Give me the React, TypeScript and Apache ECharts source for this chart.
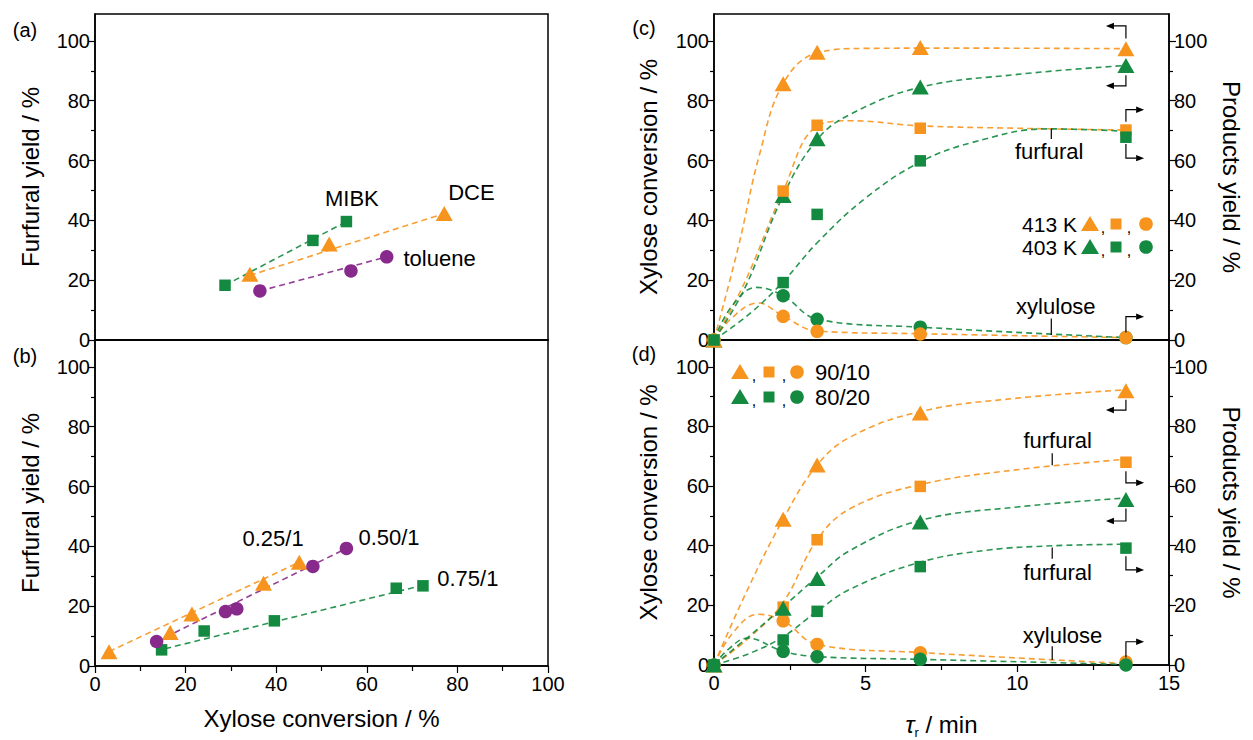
import React, { useEffect, useRef } from "react";
import * as echarts from "echarts";

const FONT = "'Liberation Sans', Arial, Helvetica, sans-serif";
const ORANGE = "#F7941D";
const GREEN = "#138A3F";
const PURPLE = "#882A8C";

// ---------- Panel (a): extraction solvent ----------
const mibkConv = [28.7, 48.1, 55.5];
const mibkYield = [18.3, 33.3, 39.6];
const dceConv = [34.2, 51.7, 77.1];
const dceYield = [22.0, 32.1, 42.3];
const tolConv = [36.4, 56.5, 64.4];
const tolYield = [16.4, 23.1, 27.8];
// fitted dashed lines (end points)
const mibkFitConv = [28.7, 55.5];
const mibkFitYield = [18.3, 39.6];
const dceFitConv = [34.2, 77.1];
const dceFitYield = [21.6, 42.3];
const tolFitConv = [36.4, 64.4];
const tolFitYield = [16.4, 27.8];

// ---------- Panel (b): volume ratio ----------
const r025Conv = [3.1, 16.6, 21.4, 37.2, 45.1];
const r025Yield = [4.8, 11.2, 17.4, 27.7, 34.7];
const r050Conv = [13.6, 28.8, 31.3, 48.1, 55.5];
const r050Yield = [8.2, 18.2, 19.1, 33.3, 39.3];
const r075Conv = [14.7, 24.1, 39.6, 66.5, 72.4];
const r075Yield = [5.4, 11.7, 15.1, 26.0, 26.8];
const r025FitConv = [3.1, 45.1];
const r025FitYield = [4.8, 34.7];
const r050FitConv = [13.6, 55.5];
const r050FitYield = [8.2, 39.3];
const r075FitConv = [15.5, 72.4];
const r075FitYield = [5.8, 27.0];

// ---------- Panels (c) and (d): residence time ----------
const tau = [0, 2.28, 3.4, 6.8, 13.58];
// (c) temperature
const conv413 = [0, 85.7, 96.2, 97.8, 97.4];
const furf413 = [0, 49.8, 71.8, 70.8, 70.2];
const xylu413 = [0, 7.9, 2.9, 2.0, 0.8];
const conv403 = [0, 48.3, 67.3, 84.6, 91.8];
const furf403 = [0, 19.2, 42.0, 59.9, 67.8];
const xylu403 = [0, 14.8, 6.9, 4.3, 0.8];
// (d) solvent ratio
const conv9010 = [0, 48.9, 67.1, 84.5, 92.0];
const furf9010 = [0, 19.4, 42.0, 59.9, 68.0];
const xylu9010 = [0, 14.8, 6.9, 4.1, 1.0];
const conv8020 = [0, 19.0, 29.0, 48.0, 55.5];
const furf8020 = [0, 8.4, 18.0, 33.0, 39.2];
const xylu8020 = [0, 4.6, 2.8, 1.9, 0.0];

// dashed guide curves
const curveConv413 = [[0, 0], [0.8, 31], [1.5, 62], [2.28, 85.7], [3.4, 96], [5, 97.5], [8, 97.6], [13.58, 97.4]];
const curveFurf413 = [[0, 0], [1, 19], [2.28, 49.8], [3.4, 71.5], [4.5, 73.3], [6.8, 71.6], [10, 70.8], [13.58, 70.2]];
const curveXylu413 = [[0, 0], [0.6, 7.5], [1.45, 12.4], [2.28, 8], [3.4, 3], [6.8, 2.1], [13.58, 0.8]];
const curveConv403 = [[0, 0], [1, 17], [2.28, 48.3], [3.4, 67], [4.5, 75.5], [6.8, 84.5], [10, 88.8], [13.58, 91.8]];
const curveFurf403 = [[0, 0], [1.2, 9], [2.28, 19.5], [3.4, 32.5], [5, 47.5], [6.8, 59.5], [8.5, 66], [11, 70.6], [13.58, 69.8]];
const curveXylu403 = [[0, 0], [0.6, 11.5], [1.4, 17.6], [2.28, 14.8], [3.4, 7], [6.8, 4.3], [13.58, 0.8]];

const curveConv9010 = [[0, 0], [1, 23], [2.28, 48.9], [3.4, 67], [4.5, 76.5], [6.8, 85], [10, 89.5], [13.58, 92.3]];
const curveFurf9010 = [[0, 0], [1.2, 9.5], [2.28, 21], [3.4, 42], [4.5, 52.5], [6.8, 60.5], [10, 65.5], [13.58, 69]];
const curveXylu9010 = [[0, 0], [0.6, 10.5], [1.45, 17], [2.28, 14.8], [3.4, 6.9], [6.8, 4.2], [13.58, 0.5]];
const curveConv8020 = [[0, 0], [1.2, 10], [2.28, 19.5], [3.4, 29.5], [4.5, 38.5], [6.8, 48.5], [10, 53], [13.58, 56]];
const curveFurf8020 = [[0, 0], [1.2, 4], [2.28, 9.5], [3.4, 18], [4.5, 25.5], [6.8, 34.5], [9, 38.5], [11.2, 40], [13.58, 40.5]];
const curveXylu8020 = [[0, 0], [0.5, 5.5], [1.1, 9], [2.28, 4.6], [3.4, 2.8], [6.8, 1.9], [13.58, 0.2]];

const yMajor = [0, 20, 40, 60, 80, 100];
const yMinor = [10, 30, 50, 70, 90];

const zip = (xs: number[], ys: number[]) => xs.map((x, i) => [x, ys[i]]);

const SYM: Record<string, any> = {
  tri: { symbol: "triangle", symbolSize: [17, 15] },
  sq: { symbol: "rect", symbolSize: 11.5 },
  ci: { symbol: "circle", symbolSize: 13.5 },
};

function yMain(grid: number, pos: string, name: string, rot: number, gap: number) {
  return {
    type: "value", gridIndex: grid, position: pos, min: 0, max: 109,
    axisLine: { show: true, onZero: false, lineStyle: { color: "#000", width: 1.5 } },
    axisTick: { show: true, customValues: yMajor, length: 7, lineStyle: { color: "#000", width: 1.2 } },
    axisLabel: { show: true, customValues: yMajor, fontSize: 20, color: "#000", margin: 5, fontFamily: FONT },
    splitLine: { show: false },
    name, nameLocation: "middle", nameGap: gap, nameRotate: rot,
    nameTextStyle: { fontSize: 24, color: "#000", fontFamily: FONT },
  };
}
function yMin(grid: number, pos: string) {
  return {
    type: "value", gridIndex: grid, position: pos, min: 0, max: 109,
    axisLine: { show: false },
    axisTick: { show: true, customValues: yMinor, length: 4, lineStyle: { color: "#000", width: 1.2 } },
    axisLabel: { show: false },
    splitLine: { show: false },
  };
}
function xPlain(grid: number, max: number) {
  return {
    type: "value", gridIndex: grid, min: 0, max,
    axisLine: { show: true, onZero: false, lineStyle: { color: "#000", width: 1.5 } },
    axisTick: { show: false }, axisLabel: { show: false }, splitLine: { show: false },
  };
}
function xLabeled(grid: number, max: number, interval: number, name: string, nameGap: number, rich?: any) {
  return {
    type: "value", gridIndex: grid, min: 0, max, interval,
    axisLine: { show: true, onZero: false, lineStyle: { color: "#000", width: 1.5 } },
    axisTick: { show: true, length: 7, lineStyle: { color: "#000", width: 1.2 } },
    minorTick: { show: true, splitNumber: 2, length: 5, lineStyle: { color: "#000", width: 1.2 } },
    axisLabel: { fontSize: 20, color: "#000", margin: 8, fontFamily: FONT },
    splitLine: { show: false },
    name, nameLocation: "middle", nameGap,
    nameTextStyle: { fontSize: 24, color: "#000", fontFamily: FONT, rich },
  };
}

function fitLine(x: number, y: number, data: number[][], color: string) {
  return {
    type: "line", xAxisIndex: x, yAxisIndex: y, data, symbol: "none", silent: true, z: 2,
    lineStyle: { color, width: 1.6, type: [6, 4], opacity: 0.9 },
  };
}
function curve(x: number, y: number, data: number[][], color: string) {
  return {
    type: "line", xAxisIndex: x, yAxisIndex: y, data, symbol: "none", silent: true, z: 2,
    smooth: 0.4,
    lineStyle: { color, width: 1.6, type: [6, 4], opacity: 0.9 },
  };
}
function pts(x: number, y: number, data: number[][], color: string, kind: string, z = 5) {
  return {
    type: "scatter", xAxisIndex: x, yAxisIndex: y, data, z,
    ...SYM[kind],
    itemStyle: { color, opacity: 1 },
  };
}

function buildOption(): any {
  const grid = [
    { left: 95, width: 453, top: 14, height: 326 },
    { left: 95, width: 453, top: 340, height: 326 },
    { left: 714, width: 455, top: 14, height: 326 },
    { left: 714, width: 455, top: 340, height: 326 },
  ].map((g) => ({ ...g, show: true, borderColor: "#000", borderWidth: 1.5, containLabel: false }));

  const xAxis = [
    xPlain(0, 100),
    xLabeled(1, 100, 20, "Xylose conversion / %", 40),
    xPlain(2, 15),
    xLabeled(3, 15, 5, "{t|τ}{s|r}{n| / min}", 44, {
      t: { fontSize: 24, fontStyle: "italic", fontFamily: FONT, color: "#000" },
      s: { fontSize: 13, fontFamily: FONT, color: "#000", verticalAlign: "bottom", lineHeight: 30 },
      n: { fontSize: 24, fontFamily: FONT, color: "#000" },
    }),
  ];

  const yAxis = [
    yMain(0, "left", "Furfural yield / %", 90, 53), yMin(0, "left"),
    yMain(1, "left", "Furfural yield / %", 90, 53), yMin(1, "left"),
    yMain(2, "left", "Xylose conversion / %", 90, 54), yMin(2, "left"),
    yMain(2, "right", "Products yield / %", -90, 50), yMin(2, "right"),
    yMain(3, "left", "Xylose conversion / %", 90, 54), yMin(3, "left"),
    yMain(3, "right", "Products yield / %", -90, 50), yMin(3, "right"),
  ];

  const series: any[] = [
    // (a)
    fitLine(0, 0, zip(mibkFitConv, mibkFitYield), GREEN),
    fitLine(0, 0, zip(dceFitConv, dceFitYield), ORANGE),
    fitLine(0, 0, zip(tolFitConv, tolFitYield), PURPLE),
    pts(0, 0, zip(mibkConv, mibkYield), GREEN, "sq"),
    pts(0, 0, zip(dceConv, dceYield), ORANGE, "tri"),
    pts(0, 0, zip(tolConv, tolYield), PURPLE, "ci"),
    // (b)
    fitLine(1, 2, zip(r025FitConv, r025FitYield), ORANGE),
    fitLine(1, 2, zip(r050FitConv, r050FitYield), PURPLE),
    fitLine(1, 2, zip(r075FitConv, r075FitYield), GREEN),
    pts(1, 2, zip(r075Conv, r075Yield), GREEN, "sq"),
    pts(1, 2, zip(r025Conv, r025Yield), ORANGE, "tri"),
    pts(1, 2, zip(r050Conv, r050Yield), PURPLE, "ci"),
    // (c)
    curve(2, 4, curveConv413, ORANGE),
    curve(2, 4, curveFurf413, ORANGE),
    curve(2, 4, curveXylu413, ORANGE),
    curve(2, 4, curveConv403, GREEN),
    curve(2, 4, curveFurf403, GREEN),
    curve(2, 4, curveXylu403, GREEN),
    pts(2, 4, zip(tau, conv403), GREEN, "tri", 5),
    pts(2, 4, zip(tau, xylu403), GREEN, "ci", 5),
    pts(2, 4, zip(tau, conv413), ORANGE, "tri", 6),
    pts(2, 4, zip(tau, furf413), ORANGE, "sq", 6),
    pts(2, 4, zip(tau, xylu413), ORANGE, "ci", 6),
    pts(2, 4, zip(tau, furf403), GREEN, "sq", 7),
    // (d)
    curve(3, 8, curveConv9010, ORANGE),
    curve(3, 8, curveFurf9010, ORANGE),
    curve(3, 8, curveXylu9010, ORANGE),
    curve(3, 8, curveConv8020, GREEN),
    curve(3, 8, curveFurf8020, GREEN),
    curve(3, 8, curveXylu8020, GREEN),
    pts(3, 8, zip(tau, conv9010), ORANGE, "tri", 5),
    pts(3, 8, zip(tau, furf9010), ORANGE, "sq", 5),
    pts(3, 8, zip(tau, xylu9010), ORANGE, "ci", 5),
    pts(3, 8, zip(tau, conv8020), GREEN, "tri", 6),
    pts(3, 8, zip(tau, furf8020), GREEN, "sq", 6),
    pts(3, 8, zip(tau, xylu8020), GREEN, "ci", 6),
  ];

  return { animation: false, backgroundColor: "#fff", grid, xAxis, yAxis, series };
}

// ---------- annotations (data coordinates of each panel) ----------
const PANEL_AXES: Record<string, [number, number]> = { a: [0, 0], b: [1, 2], c: [2, 4], d: [3, 8] };

const labelTexts = [
  { p: "a", x: 56.7, y: 47.2, t: "MIBK", align: "center" },
  { p: "a", x: 83.1, y: 49.4, t: "DCE", align: "center" },
  { p: "a", x: 68.1, y: 27.3, t: "toluene", align: "left" },
  { p: "b", x: 39.3, y: 42.5, t: "0.25/1", align: "center" },
  { p: "b", x: 64.9, y: 43.0, t: "0.50/1", align: "center" },
  { p: "b", x: 82.3, y: 29.2, t: "0.75/1", align: "center" },
  { p: "c", x: 11.05, y: 63, t: "furfural", align: "center" },
  { p: "c", x: 11.27, y: 11.1, t: "xylulose", align: "center" },
  { p: "d", x: 11.33, y: 75.2, t: "furfural", align: "center" },
  { p: "d", x: 11.33, y: 30.9, t: "furfural", align: "center" },
  { p: "d", x: 11.49, y: 10, t: "xylulose", align: "center" },
];

const brackets = [
  { p: "c", pts: [[13.58, 100.8], [13.58, 105], [12.92, 105]] },
  { p: "c", pts: [[13.58, 88.5], [13.58, 85], [12.92, 85]] },
  { p: "c", pts: [[13.58, 73], [13.58, 77], [14.18, 77]] },
  { p: "c", pts: [[13.58, 65.5], [13.58, 60.8], [14.18, 60.8]] },
  { p: "c", pts: [[13.58, 2.5], [13.58, 7.8], [14.18, 7.8]] },
  { p: "d", pts: [[13.58, 89], [13.58, 85.5], [12.92, 85.5]] },
  { p: "d", pts: [[13.58, 65], [13.58, 61.1], [14.18, 61.1]] },
  { p: "d", pts: [[13.58, 52.5], [13.58, 48.3], [12.92, 48.3]] },
  { p: "d", pts: [[13.58, 36.5], [13.58, 31.9], [14.18, 31.9]] },
  { p: "d", pts: [[13.58, 2.5], [13.58, 7.8], [14.18, 7.8]] },
];

const leaders = [
  { p: "c", pts: [[11.12, 67.2], [11.12, 70.6]] },
  { p: "c", pts: [[11.12, 1.7], [11.12, 7.2]] },
  { p: "d", pts: [[11.15, 67], [11.15, 71]] },
  { p: "d", pts: [[11.15, 35.6], [11.15, 39.4]] },
  { p: "d", pts: [[11.15, 1.7], [11.15, 6.3]] },
];

function legendRow(els: any[], y: number, color: string, xs: number[], commas: number[]) {
  const [tx, sx, cx] = xs;
  els.push({ type: "polygon", shape: { points: [[tx, y - 8], [tx + 9, y + 7], [tx - 9, y + 7]] }, style: { fill: color }, z: 100 });
  els.push({ type: "rect", shape: { x: sx - 5.5, y: y - 5.5, width: 11, height: 11 }, style: { fill: color }, z: 100 });
  els.push({ type: "circle", shape: { cx, cy: y, r: 6.8 }, style: { fill: color }, z: 100 });
  commas.forEach((c) =>
    els.push({ type: "text", x: c, y: y + 3, style: { text: ",", fontSize: 16, fontFamily: FONT, fill: "#000", align: "center", verticalAlign: "middle" }, z: 100 })
  );
}

function buildGraphics(chart: any): any[] {
  const toPx = (p: string, v: number[]) => {
    const [xi, yi] = PANEL_AXES[p];
    return chart.convertToPixel({ xAxisIndex: xi, yAxisIndex: yi }, v) as number[];
  };
  const els: any[] = [];
  labelTexts.forEach((l) => {
    const [x, y] = toPx(l.p, [l.x, l.y]);
    els.push({ type: "text", x, y, style: { text: l.t, fontSize: 22, fontFamily: FONT, fill: "#000", align: l.align, verticalAlign: "middle" }, z: 100 });
  });
  leaders.forEach((l) => {
    const pp = l.pts.map((v) => toPx(l.p, v));
    els.push({ type: "polyline", shape: { points: pp }, style: { stroke: "#000", lineWidth: 1.2, fill: null }, z: 100 });
  });
  brackets.forEach((b) => {
    const pp = b.pts.map((v) => toPx(b.p, v));
    const [x1, y1] = pp[pp.length - 2];
    const [x2, y2] = pp[pp.length - 1];
    const ang = Math.atan2(y2 - y1, x2 - x1);
    const L = 8, W = 3.2;
    const bx = x2 - L * Math.cos(ang), by = y2 - L * Math.sin(ang);
    const nx = -Math.sin(ang), ny = Math.cos(ang);
    const line = pp.slice(0, -1).concat([[bx, by]]);
    els.push({ type: "polyline", shape: { points: line }, style: { stroke: "#000", lineWidth: 1.2, fill: null }, z: 100 });
    els.push({ type: "polygon", shape: { points: [[x2, y2], [bx + nx * W, by + ny * W], [bx - nx * W, by - ny * W]] }, style: { fill: "#000" }, z: 100 });
  });
  // panel letters
  [["(a)", 25, 30], ["(b)", 25, 356], ["(c)", 644, 28], ["(d)", 644, 354]].forEach(([t, x, y]) =>
    els.push({ type: "text", x, y, style: { text: t, fontSize: 20, fontFamily: FONT, fill: "#000", align: "center", verticalAlign: "middle" }, z: 100 })
  );
  // legend (c)
  els.push({ type: "text", x: 1077, y: 224, style: { text: "413 K", fontSize: 21, fontFamily: FONT, fill: "#000", align: "right", verticalAlign: "middle" }, z: 100 });
  els.push({ type: "text", x: 1077, y: 247, style: { text: "403 K", fontSize: 21, fontFamily: FONT, fill: "#000", align: "right", verticalAlign: "middle" }, z: 100 });
  legendRow(els, 224, ORANGE, [1090, 1116, 1146], [1103, 1129]);
  legendRow(els, 247, GREEN, [1090, 1116, 1146], [1103, 1129]);
  // legend (d)
  legendRow(els, 372, ORANGE, [740, 769, 797], [754, 784]);
  legendRow(els, 397, GREEN, [740, 769, 797], [754, 784]);
  els.push({ type: "text", x: 815, y: 372, style: { text: "90/10", fontSize: 22, fontFamily: FONT, fill: "#000", align: "left", verticalAlign: "middle" }, z: 100 });
  els.push({ type: "text", x: 815, y: 397, style: { text: "80/20", fontSize: 22, fontFamily: FONT, fill: "#000", align: "left", verticalAlign: "middle" }, z: 100 });
  return els;
}

export default function App() {
  const ref = useRef<HTMLDivElement>(null);
  useEffect(() => {
    document.body.style.margin = "0";
    const chart = echarts.init(ref.current!, null, { renderer: "svg" });
    chart.setOption(buildOption());
    chart.setOption({ graphic: buildGraphics(chart) });
    return () => chart.dispose();
  }, []);
  return <div ref={ref} style={{ width: 1253, height: 740 }} />;
}
